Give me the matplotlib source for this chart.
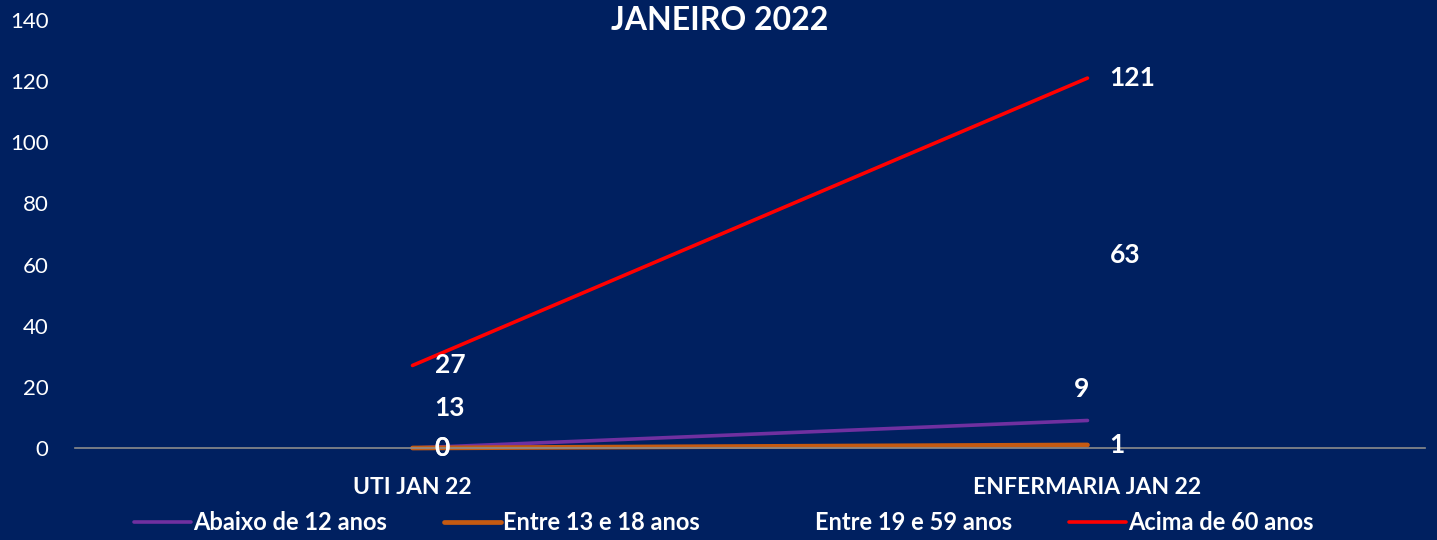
import matplotlib
matplotlib.use("Agg")
import matplotlib.pyplot as plt
from matplotlib.transforms import offset_copy

categories = ["UTI JAN 22", "ENFERMARIA JAN 22"]
series_names = ["Abaixo de 12 anos", "Entre 13 e 18 anos", "Entre 19 e 59 anos", "Acima de 60 anos"]
abaixo_12 = [0, 9]
entre_13_18 = [0, 1]
entre_19_59 = [13, 63]
acima_60 = [27, 121]
y_ticks = [0, 20, 40, 60, 80, 100, 120, 140]

bg = "#002060"
colors = ["#7030A0", "#C55A11", bg, "#FF0000"]
widths = [2.6, 3.4, 2.6, 2.6]
values = [abaixo_12, entre_13_18, entre_19_59, acima_60]

plt.rcParams['font.family'] = ['Lato', 'DejaVu Sans']

fig = plt.figure(figsize=(14.37, 5.40), dpi=100, facecolor=bg)
ax = fig.add_axes([75/1437, 1-448/540, 1350/1437, 428/540])
ax.set_facecolor(bg)

x = list(range(len(categories)))
for name, vals, c, lw in zip(series_names, values, colors, widths):
    ax.plot(x, vals, color=c, lw=lw, solid_capstyle='round', label=name, clip_on=False)

# data labels
for name, vals in zip(series_names, values):
    for i, v in enumerate(vals):
        if name == "Abaixo de 12 anos" and i == 1:
            t = offset_copy(ax.transData, fig=fig, x=-6, y=31, units='dots')
            ax.text(i, v, str(v), transform=t, ha='center', va='center',
                    color='white', fontsize=19, fontweight='bold')
        else:
            t = offset_copy(ax.transData, fig=fig, x=22, y=0, units='dots')
            ax.text(i, v, str(v), transform=t, ha='left', va='center',
                    color='white', fontsize=19, fontweight='bold')

ax.set_xlim(-0.5, 1.5)
ax.set_ylim(0, 140)
ax.set_yticks(y_ticks)
ax.set_xticks(x)
ax.set_xticklabels(categories, fontsize=16.5, fontweight='bold', color='white')
ax.tick_params(axis='y', colors='white', labelsize=16, length=0, pad=19)
ax.tick_params(axis='x', length=0, pad=21)
for s in ['top', 'right', 'left']:
    ax.spines[s].set_visible(False)
ax.spines['bottom'].set_color('#8C8C8C')
ax.spines['bottom'].set_linewidth(1.2)

fig.text(720/1437, 1-21/540, "JANEIRO 2022", ha='center', va='center',
         color='white', fontsize=23, fontweight='bold')

leg = fig.legend(loc='center', bbox_to_anchor=(724/1437, 1-523/540), ncol=4,
                 frameon=False, handlelength=2.4, handletextpad=0.1,
                 columnspacing=2.4, prop={'weight': 'bold', 'size': 17})
for t in leg.get_texts():
    t.set_color('white')

fig.savefig("out.png", dpi=100, facecolor=bg)
